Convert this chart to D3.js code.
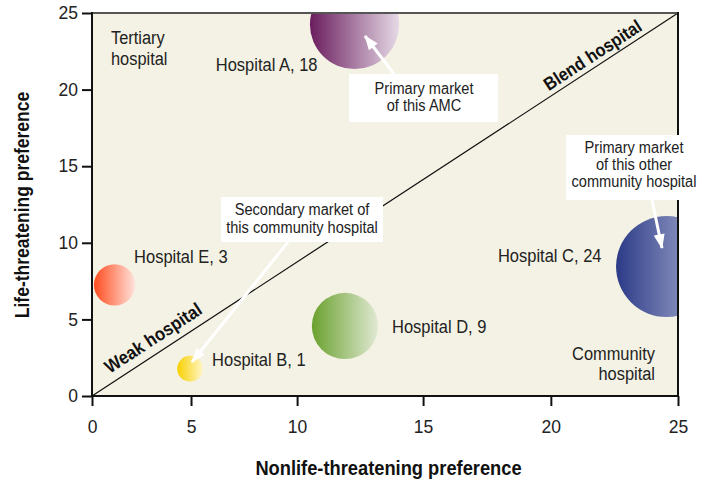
<!DOCTYPE html>
<html>
<head>
<meta charset="utf-8">
<script src="https://cdn.jsdelivr.net/npm/d3@7/dist/d3.min.js"></script>
<style>
  html, body { margin: 0; padding: 0; background: #ffffff; }
  svg { display: block; }
  .lbl { font-family: "Liberation Sans", Arial, Helvetica, sans-serif; }
</style>
</head>
<body>
<svg id="chart" width="706" height="482"></svg>
<script>
// ---------- data ----------
const hospitals   = ["Hospital A", "Hospital B", "Hospital C", "Hospital D", "Hospital E"];
const nonlifePref = [12.28, 4.95, 24.55, 11.9, 1.14];   // x
const lifePref    = [24.25, 1.78, 8.45, 4.57, 7.25];    // y
const marketSize  = [18, 1, 24, 9, 3];                  // bubble label value
const colorDark   = ["#6a1d5e", "#f7d000", "#2b3a87", "#6aa12e", "#ff4c1f"];
const colorLight  = ["#e6dae6", "#fff6c6", "#b3b9d8", "#e0e9d3", "#ffe3dc"];
const xTicks = [0, 5, 10, 15, 20, 25];
const yTicks = [0, 5, 10, 15, 20, 25];

(function () {
// ---------- layout ----------
const svg = d3.select("#chart");
const pL = 92, pR = 678, pT = 13, pB = 396;
const W = pR - pL;
const K = 0.9; // horizontal compression to imitate the condensed face of the original
// the original x axis is drawn with unequal spacing between its ticks
const xFrac = [0, 0.169, 0.350, 0.565, 0.783, 1];
const x = d3.scaleLinear().domain(xTicks).range(xFrac.map(f => pL + f * W));
const y = d3.scaleLinear().domain([0, 25]).range([pB, pT]);
const r = d3.scalePow().exponent(0.43).domain([0, 24]).range([0, 50.5]);

const data = hospitals.map((h, i) => ({
  name: h, x: nonlifePref[i], y: lifePref[i], size: marketSize[i],
  c0: colorDark[i], c1: colorLight[i], i
}));

const defs = svg.append("defs");
defs.append("clipPath").attr("id", "plotClip")
  .append("rect").attr("x", pL).attr("y", pT).attr("width", W).attr("height", pB - pT);

data.forEach(d => {
  const g = defs.append("linearGradient").attr("id", "grad" + d.i)
    .attr("x1", "0%").attr("x2", "100%").attr("y1", "0%").attr("y2", "0%");
  g.append("stop").attr("offset", "0%").attr("stop-color", d.c0);
  g.append("stop").attr("offset", "100%").attr("stop-color", d.c1);
});

defs.append("marker").attr("id", "arrowHead")
  .attr("viewBox", "0 0 16 12").attr("refX", 15).attr("refY", 6)
  .attr("markerWidth", 16).attr("markerHeight", 11)
  .attr("markerUnits", "userSpaceOnUse").attr("orient", "auto")
  .append("path").attr("d", "M0,0 L16,6 L0,12 Z").attr("fill", "#ffffff");

// plot background
svg.append("rect").attr("x", pL).attr("y", pT).attr("width", W).attr("height", pB - pT)
  .attr("fill", "#f4f2e4");

// diagonal
svg.append("line")
  .attr("x1", x(0)).attr("y1", y(0)).attr("x2", x(25)).attr("y2", y(25))
  .attr("stroke", "#111").attr("stroke-width", 1.2);

// bubbles
svg.append("g").attr("clip-path", "url(#plotClip)")
  .selectAll("circle").data(data).join("circle")
  .attr("cx", d => x(d.x)).attr("cy", d => y(d.y)).attr("r", d => r(d.size))
  .attr("fill", d => "url(#grad" + d.i + ")");

// frame
svg.append("line").attr("x1", pL).attr("x2", pR).attr("y1", pT).attr("y2", pT)
  .attr("stroke", "#555").attr("stroke-width", 2);
svg.append("line").attr("x1", pL).attr("x2", pL).attr("y1", pT - 1).attr("y2", pB + 1)
  .attr("stroke", "#111").attr("stroke-width", 2);
svg.append("line").attr("x1", pL - 1).attr("x2", pR + 1).attr("y1", pB).attr("y2", pB)
  .attr("stroke", "#111").attr("stroke-width", 2);
svg.append("line").attr("x1", pR).attr("x2", pR).attr("y1", pT - 1).attr("y2", pB + 1)
  .attr("stroke", "#111").attr("stroke-width", 2);

// axes
const yAxis = svg.append("g").attr("transform", `translate(${pL},0)`)
  .call(d3.axisLeft(y).tickValues(yTicks).tickSize(10).tickPadding(4).tickFormat(d3.format("d")));
const xAxis = svg.append("g").attr("transform", `translate(0,${pB})`)
  .call(d3.axisBottom(x).tickValues(xTicks).tickSize(10).tickPadding(15).tickFormat(d3.format("d")));
[xAxis, yAxis].forEach(a => {
  a.select(".domain").remove();
  a.selectAll(".tick line").attr("stroke", "#111").attr("stroke-width", 2);
  a.selectAll(".tick text").attr("fill", "#222")
    .style("font-family", "'Liberation Sans', Arial, sans-serif").style("font-size", "17.5px");
});

// text helper: condensed look via horizontal scale
function label(px, py, lines, opt) {
  const o = Object.assign({ lh: 18, anchor: "start", size: 16, weight: "normal", rot: 0, fill: "#222", dy: null }, opt);
  const g = svg.append("g").attr("transform", `translate(${px},${py}) rotate(${o.rot}) scale(${K},1)`);
  const t = g.append("text").attr("class", "lbl").attr("fill", o.fill)
    .attr("text-anchor", o.anchor).style("font-size", (o.size / K) + "px").style("font-weight", o.weight);
  lines.forEach((s, k) => {
    const ts = t.append("tspan").attr("x", 0).attr("y", k * o.lh).text(s);
    if (o.dy) ts.attr("dy", o.dy);
  });
  return t;
}

// bubble labels
const labelPos = {
  "Hospital A": { dx: -37, dy: 46.5, anchor: "end" },
  "Hospital B": { dx: 22, dy: -3, anchor: "start" },
  "Hospital C": { dx: -65, dy: -5, anchor: "end" },
  "Hospital D": { dx: 47, dy: 7, anchor: "start" },
  "Hospital E": { dx: 19.5, dy: -22, anchor: "start" }
};
data.forEach(d => {
  const p = labelPos[d.name];
  label(x(d.x) + p.dx, y(d.y) + p.dy, [`${d.name}, ${d.size}`], { anchor: p.anchor, size: 16.5 });
});

// region labels
label(111, 44, ["Tertiary", "hospital"], { lh: 21, size: 16.4 });
label(655, 360, ["Community", "hospital"], { lh: 20.5, size: 16.4, anchor: "end" });

// diagonal labels
const ang = -Math.atan2(y(0) - y(25), x(25) - x(0)) * 180 / Math.PI;
label(153, 338, ["Weak hospital"], { anchor: "middle", size: 16.7, weight: "bold", rot: ang, fill: "#111", dy: "0.35em" });
label(592.5, 55, ["Blend hospital"], { anchor: "middle", size: 16.4, weight: "bold", rot: ang, fill: "#111", dy: "0.35em" });

// callouts
const callouts = [
  { box: [349, 74, 149, 48], lines: ["Primary market", "of this AMC"], tx: 424, ty: 94.3, lh: 17,
    arrow: [394, 74, 365, 36] },
  { box: [566, 135, 136, 65], lines: ["Primary market", "of this other", "community hospital"], tx: 634, ty: 152.7, lh: 17,
    arrow: [652, 200, 662, 248] },
  { box: [221, 197, 162, 45], lines: ["Secondary market of", "this community hospital"], tx: 302, ty: 214.7, lh: 18.6,
    arrow: [288, 242, 192, 362] }
];
callouts.forEach(c => {
  svg.append("rect").attr("x", c.box[0]).attr("y", c.box[1]).attr("width", c.box[2]).attr("height", c.box[3])
    .attr("fill", "#ffffff");
  svg.append("line").attr("x1", c.arrow[0]).attr("y1", c.arrow[1]).attr("x2", c.arrow[2]).attr("y2", c.arrow[3])
    .attr("stroke", "#ffffff").attr("stroke-width", 3).attr("marker-end", "url(#arrowHead)");
  label(c.tx, c.ty, c.lines, { lh: c.lh, anchor: "middle", size: 14.6 });
});

// axis titles
label(388.5, 475, ["Nonlife-threatening preference"], { anchor: "middle", size: 18.3, weight: "bold", fill: "#111" });
svg.append("text").attr("class", "lbl")
  .attr("transform", `translate(22,205) rotate(-90) scale(${K},1)`).attr("text-anchor", "middle").attr("dy", "0.35em")
  .style("font-size", (17.5 / K) + "px").style("font-weight", "bold").attr("fill", "#111")
  .text("Life-threatening preference");
})();
</script>
</body>
</html>
